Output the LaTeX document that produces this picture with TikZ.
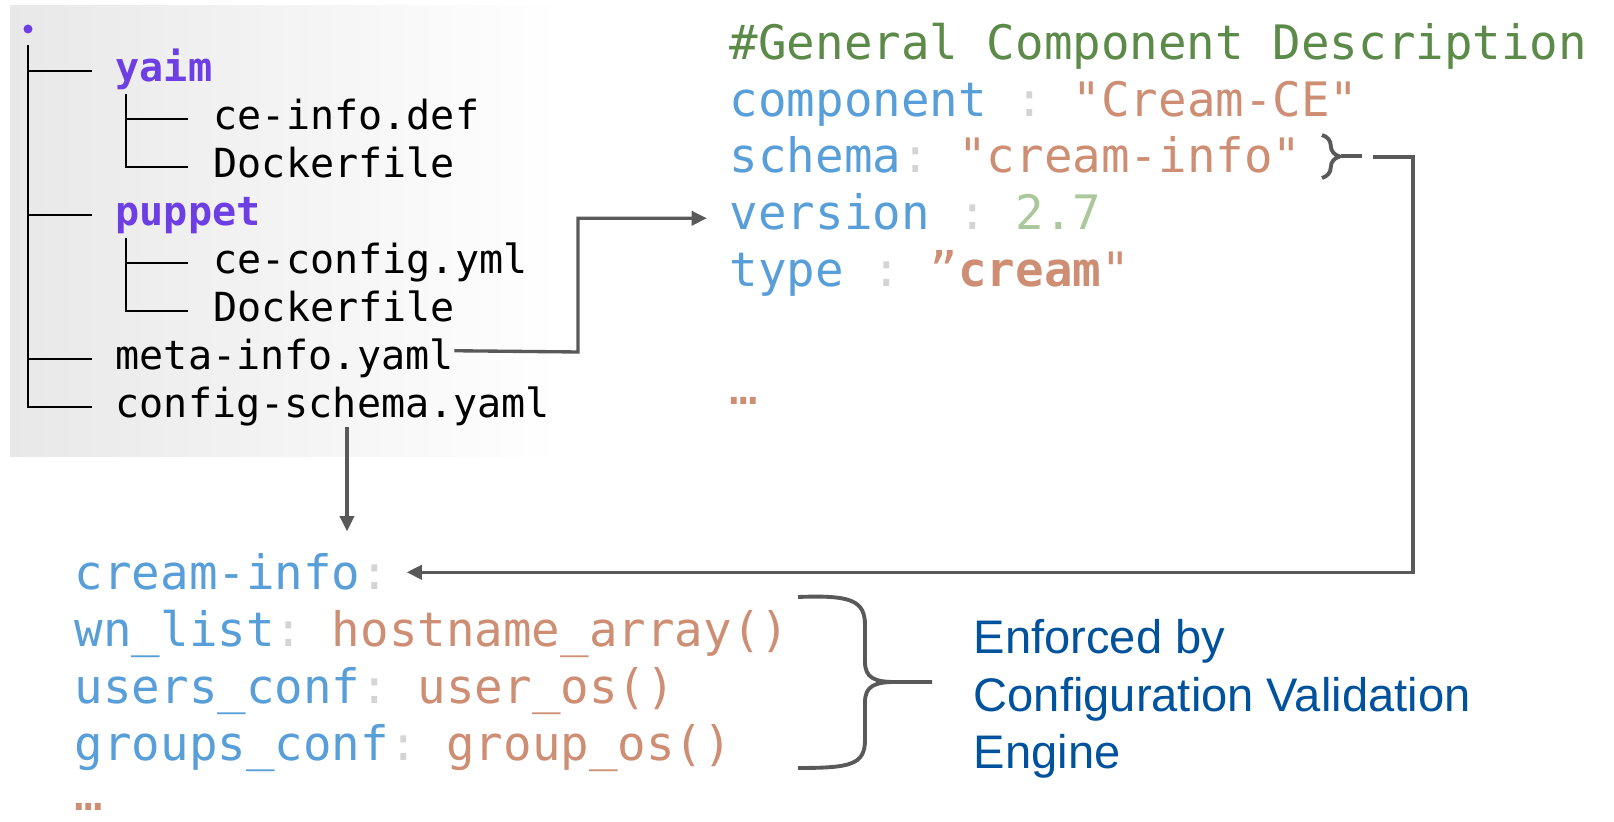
\documentclass[tikz,border=0pt]{standalone}
\usepackage{fontspec}
\setmainfont{Liberation Sans}
\setmonofont{DejaVu Sans Mono}
\usetikzlibrary{arrows.meta,decorations.pathreplacing}
\definecolor{KeyClr}{RGB}{88,158,216}
\definecolor{StrClr}{RGB}{206,142,116}
\definecolor{NumClr}{RGB}{170,200,155}
\definecolor{ColClr}{RGB}{212,212,212}
\definecolor{ComClr}{RGB}{92,138,72}
\definecolor{DirClr}{RGB}{108,62,228}
\definecolor{LineClr}{RGB}{89,89,89}
\definecolor{NoteClr}{RGB}{0,82,156}

\newcommand{\Key}[1]{\textcolor{KeyClr}{#1}}
\newcommand{\Str}[1]{\textcolor{StrClr}{#1}}
\newcommand{\Col}{\textcolor{ColClr}{:}}

\begin{document}
\begin{tikzpicture}[x=0.01cm,y=-0.01cm,
  tree/.style={anchor=base west,inner sep=0pt,font=\ttfamily\fontsize{11.4}{14}\selectfont},
  dir/.style={tree,text=DirClr,font=\ttfamily\bfseries\fontsize{11.4}{14}\selectfont},
  code/.style={anchor=base west,inner sep=0pt,font=\ttfamily\fontsize{13.5}{16}\selectfont},
  branch/.style={line width=0.75pt},
  conn/.style={draw=LineClr,line width=0.95pt,-{Triangle[length=4.3pt,width=4pt]}},
  brc/.style={draw=LineClr,line width=1.1pt}]
\useasboundingbox (0,0) rectangle (1614,822);

% file tree
\shade[left color=black!9,right color=white] (10,6) rectangle (560,457);
\fill[DirClr] (28,29) circle (4.5);
\draw[branch] (28,45) -- (28,407) -- (92,407);
\foreach \y in {71,215,359} \draw[branch] (28,\y) -- (92,\y);
\foreach \t in {94,238} {
  \draw[branch] (126,\t) -- (126,\t+73) -- (188,\t+73);
  \draw[branch] (126,\t+25) -- (188,\t+25);
}
\node[dir]  (yaim)   at (115,82)  {yaim};
\node[tree] (ceinfo) at (213,130) {ce-info.def};
\node[tree] (dockA)  at (213,178) {Dockerfile};
\node[dir]  (puppet) at (115,226) {puppet};
\node[tree] (ceconf) at (213,274) {ce-config.yml};
\node[tree] (dockB)  at (213,322) {Dockerfile};
\node[tree] (meta)   at (115,370) {meta-info.yaml};
\node[tree] (cfg)    at (115,418) {config-schema.yaml};

% meta-info.yaml
\node[code,text=ComClr] (comment) at (729,60) {\#General Component Description};
\node[code] (component) at (729,117) {\Key{component} \Col{} \Str{"Cream-CE"}};
\node[code] (schema)    at (729,173) {\Key{schema}\Col{} \Str{"cream-info"}};
\node[code] (version)   at (729,230) {\Key{version} \Col{} \textcolor{NumClr}{2.7}};
\node[code] (type)      at (729,287) {\Key{type} \Col{} \Str{”\textbf{cream}"}};
\node[code] (moreA)     at (729,405) {\Str{…}};

% config-schema.yaml
\node[code] (cream)  at (74,590) {\Key{cream-info}\Col};
\node[code] (wn)     at (74,647) {\Key{wn\_list}\Col{} \Str{hostname\_array()}};
\node[code] (users)  at (74,704) {\Key{users\_conf}\Col{} \Str{user\_os()}};
\node[code] (groups) at (74,761) {\Key{groups\_conf}\Col{} \Str{group\_os()}};
\node[code] (moreB)  at (74,811) {\Str{…}};

\node[anchor=west,inner sep=0pt,align=left,text=NoteClr,
  font=\fontsize{13.4}{16.4}\selectfont] (engine) at (973,699)
  {Enforced by\\Configuration Validation\\Engine};

% braces
\draw[brc,decorate,decoration={brace,amplitude=5pt}] (1322,135) -- (1322,178);
\draw[brc] (1341,156) -- (1362,156);
\coordinate (bend) at (1413,157);
\draw[brc] (798,597) .. controls (850,595) and (865,600) .. (865,625) -- (865,662)
  .. controls (865,678) and (875,682) .. (895,682) -- (932,682);
\draw[brc] (895,682) .. controls (875,682) and (865,686) .. (865,702) -- (865,740)
  .. controls (865,765) and (850,768) .. (798,768);

% connectors
\draw[conn] ([yshift=2.3pt]meta.east) -- (578,352) |- ([xshift=-6.3pt,yshift=-1.7pt]version.west);
\draw[conn] ([xshift=4pt]cfg.south) -- ++(0,104);
\draw[conn] (1373,157) -- (bend) |- ([xshift=4.8pt]cream.east);
\end{tikzpicture}
\end{document}
